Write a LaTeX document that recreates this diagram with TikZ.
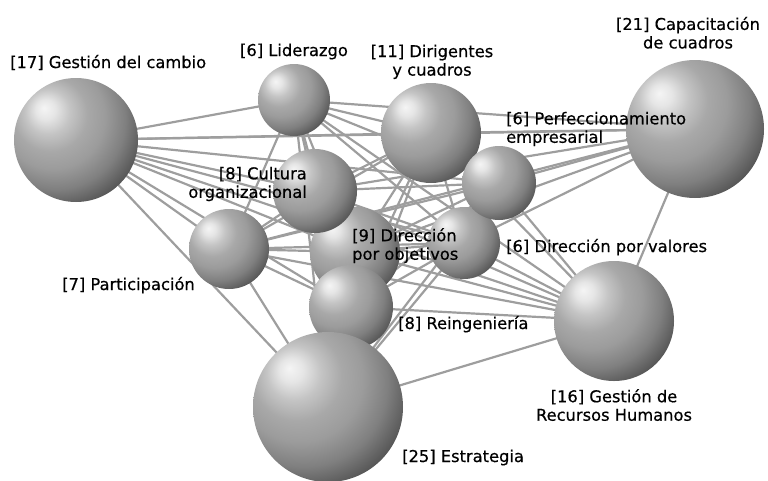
\documentclass[tikz,border=0pt]{standalone}
\usepackage{fontspec}
\setmainfont{DejaVu Sans}[RawFeature={embolden=0.5}]
\usetikzlibrary{backgrounds}
\pgfdeclareradialshading{esfera}{\pgfpoint{-13bp}{13bp}}{%
  color(0bp)=(black!4); color(4bp)=(black!10); color(9bp)=(black!23);
  color(15bp)=(black!34); color(21bp)=(black!39); color(28bp)=(black!50);
  color(35bp)=(black!67); color(37.5bp)=(black!76); color(45bp)=(black!82);
  color(75bp)=(black!86)}

\begin{document}
\begin{tikzpicture}[x=1pt, y=-1pt,
    orb/.style={circle, inner sep=0pt, minimum size=#1, shading=esfera},
    tag/.style={inner sep=0pt, font=\fontsize{16.3}{18.5}\selectfont},
    link/.style={draw=black!38, line width=2.2pt}]
    \useasboundingbox (0,0) rectangle (768,480);

    % Spheres
    \node[orb=124] (GC) at (76,140) {};
    \node[orb=72]  (LI) at (294,100) {};
    \node[orb=100] (DC) at (431,133) {};
    \node[orb=138] (CC) at (695,129) {};
    \node[orb=72]  (DV) at (464,243) {};
    \node[orb=74]  (PE) at (499,183) {};
    \node[orb=90]  (DO) at (355,252) {};
    \node[orb=84]  (CO) at (315,191) {};
    \node[orb=80]  (PA) at (229,249) {};
    \node[orb=84]  (RE) at (351,307) {};
    \node[orb=120] (RH) at (614,321) {};
    \node[orb=150] (ES) at (328,407) {};

    % Links
    \begin{scope}[on background layer]
        \foreach \a/\b in {GC/LI, GC/DC, GC/CC, GC/PE, GC/CO, GC/DV, GC/DO, GC/RH, GC/RE, GC/PA, GC/ES,
                LI/CC, LI/DC, LI/PE, LI/CO, LI/DO, LI/DV, LI/RH, LI/RE, LI/PA, LI/ES,
                DC/CC, DC/PE, DC/CO, DC/DO, DC/DV, DC/RH, DC/RE, DC/PA, DC/ES,
                CC/PE, CC/CO, CC/DO, CC/DV, CC/RH, CC/PA,
                PE/CO, PE/DO, PE/DV, PE/RH, PE/RE, PE/PA, PE/ES,
                CO/DO, CO/DV, CO/RH, CO/RE, CO/PA, CO/ES,
                PA/DO, PA/DV, PA/RH, PA/RE, PA/ES,
                DO/DV, DO/RH, DO/RE, DO/ES,
                DV/RH, DV/RE, DV/ES,
                RE/RH, RE/ES, RH/ES}
            \draw[link] (\a.center) -- (\b.center);
    \end{scope}

    % Labels
    \node[tag, anchor=base west] (tGC) at (10,68) {[17] Gestión del cambio};
    \node[tag, anchor=base] (tLI) at (294,56) {[6] Liderazgo};
    \node[tag, align=center, anchor=north] (tDC) at (432,44.5) {[11] Dirigentes\\y cuadros};
    \node[tag, align=center, anchor=north] (tCC) at (688,16.7) {[21] Capacitación\\de cuadros};
    \node[tag, align=left, anchor=north west] (tPE) at (506,111.7) {[6] Perfeccionamiento\\empresarial};
    \node[tag, align=right, anchor=north east] (tCO) at (307,166.7) {[8] Cultura\\organizacional};
    \node[tag, anchor=base east] (tPA) at (195,290) {[7] Participación};
    \node[tag, align=left, anchor=north west] (tDO) at (352,228) {[9] Dirección\\por objetivos};
    \node[tag, anchor=base west] (tDV) at (506,252) {[6] Dirección por valores};
    \node[tag, anchor=base west] (tRE) at (398,329) {[8] Reingeniería};
    \node[tag, align=center, anchor=north] (tRH) at (614,389) {[16] Gestión de\\Recursos Humanos};
    \node[tag, anchor=base west] (tES) at (402,462) {[25] Estrategia};
\end{tikzpicture}
\end{document}
